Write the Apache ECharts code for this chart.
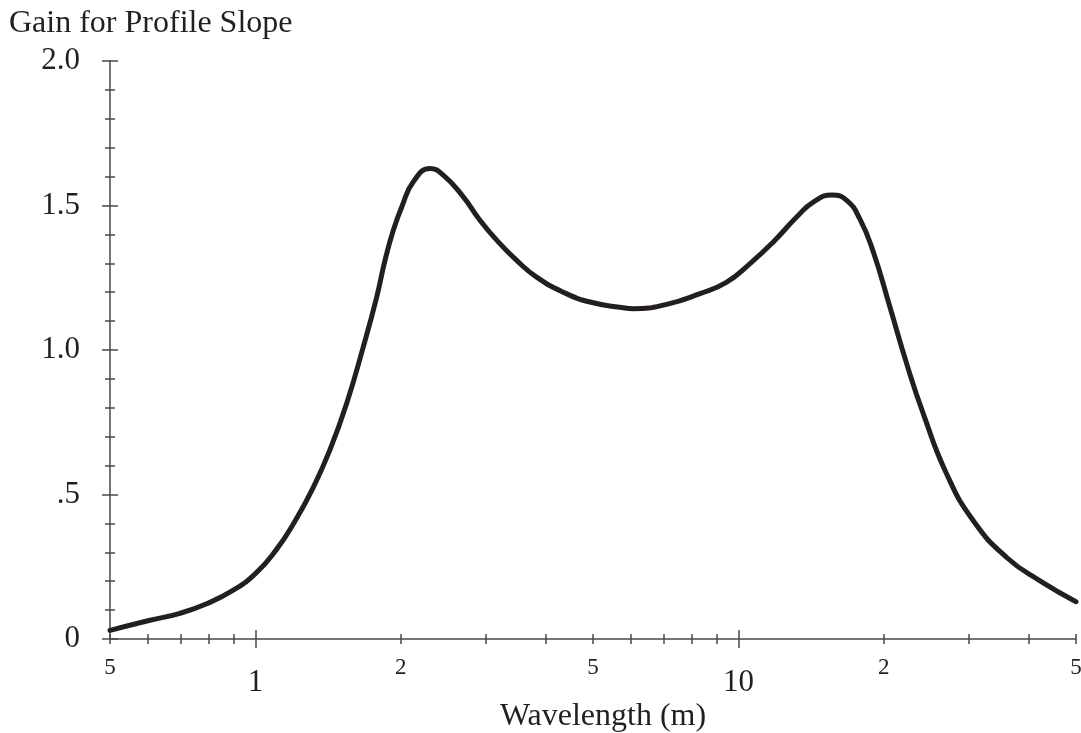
<!DOCTYPE html>
<html>
<head>
<meta charset="utf-8">
<script src="https://cdn.jsdelivr.net/npm/echarts@6/dist/echarts.min.js"></script>
<style>
html,body{margin:0;padding:0;background:#fff;}
#chart{width:1081px;height:733px;}
</style>
</head>
<body>
<div id="chart"></div>
<script>
// Wavelength (m) and gain values
var wavelength = [0.5,0.605,0.698,0.793,0.9,1.0,1.107,1.198,1.318,1.427,1.545,1.672,1.783,1.855,1.93,2.009,2.123,2.299,2.449,2.694,2.917,3.159,3.475,3.822,4.34,4.929,5.777,6.058,7.107,8.327,9.46,10.57,11.81,13.2,14.29,15.6,16.76,17.86,19.02,20.6,22.31,24.15,26.99,30.65,35.93,42.12,50];
var gain = [0.03,0.065,0.089,0.122,0.169,0.226,0.311,0.398,0.525,0.655,0.815,1.01,1.183,1.31,1.414,1.495,1.582,1.628,1.605,1.53,1.449,1.38,1.31,1.252,1.2,1.166,1.146,1.143,1.158,1.195,1.235,1.299,1.374,1.46,1.512,1.536,1.518,1.452,1.34,1.148,0.952,0.779,0.571,0.409,0.282,0.201,0.129];

// Axis ticks and labels
var xTickValues = [0.5,0.6,0.7,0.8,0.9,1,2,3,4,5,6,7,8,9,10,20,30,40,50];
var xMajorTickValues = [1,10];
var xSmallLabelValues = [0.5,2,5,20,50];
var xSmallLabelTexts = ['5','2','5','2','5'];
var xBigLabelValues = [1,10];
var xBigLabelTexts = ['1','10'];
var yLabelValues = [0,0.5,1.0,1.5,2.0];
var yLabelTexts = ['0','.5','1.0','1.5','2.0'];

var FONT = '"Liberation Serif","Times New Roman",serif';
var INK = '#231f20';
var AXIS = '#4a4a4a';

var seriesData = wavelength.map(function(w,i){return [w,gain[i]];});

function lookup(values, texts){
  return function(v){
    for (var i=0;i<values.length;i++){ if (Math.abs(values[i]-v) < 1e-6*Math.max(1,values[i])) return texts[i]; }
    return '';
  };
}

function xAxisBase(extra){
  var a = {
    type:'log', logBase:10, min:0.5, max:50, position:'bottom',
    axisLine:{show:false, onZero:false, lineStyle:{color:AXIS,width:1.5}},
    axisTick:{show:false}, axisLabel:{show:false}, splitLine:{show:false}, minorTick:{show:false}, minorSplitLine:{show:false}
  };
  for (var k in extra) a[k]=extra[k];
  return a;
}
function yAxisBase(extra){
  var a = {
    type:'value', min:0, max:2, interval:0.5, position:'left',
    axisLine:{show:false, onZero:false, lineStyle:{color:AXIS,width:1.5}},
    axisTick:{show:false}, axisLabel:{show:false}, splitLine:{show:false}
  };
  for (var k in extra) a[k]=extra[k];
  return a;
}

var option = {
  animation:false,
  backgroundColor:'#ffffff',
  title:{
    text:'Gain for Profile Slope', left:4, top:3,
    textStyle:{fontFamily:FONT, fontSize:32, fontWeight:'normal', color:INK}
  },
  grid:{left:110, right:5, top:61, bottom:94, containLabel:false, outerBoundsMode:'none'},
  xAxis:[
    xAxisBase({
      name:'Wavelength (m)', nameLocation:'middle', nameGap:62,
      nameTextStyle:{fontFamily:FONT, fontSize:32, color:INK, padding:[0,0,0,20]},
      axisLine:{show:true, onZero:false, lineStyle:{color:AXIS,width:1.5}},
      axisTick:{show:true, inside:false, length:5, customValues:xTickValues, lineStyle:{color:AXIS,width:1.5}},
      axisLabel:{
        show:true, margin:17, customValues:xSmallLabelValues,
        fontFamily:FONT, fontSize:23, lineHeight:23, color:INK,
        formatter:lookup(xSmallLabelValues, xSmallLabelTexts)
      }
    }),
    xAxisBase({
      axisTick:{show:true, inside:true, length:5, customValues:xTickValues, lineStyle:{color:AXIS,width:1.5}},
      axisLabel:{
        show:true, margin:28, customValues:xBigLabelValues,
        fontFamily:FONT, fontSize:31, lineHeight:31, color:INK,
        formatter:lookup(xBigLabelValues, xBigLabelTexts)
      }
    }),
    xAxisBase({axisTick:{show:true, inside:false, length:9, customValues:xMajorTickValues, lineStyle:{color:AXIS,width:1.5}}}),
    xAxisBase({axisTick:{show:true, inside:true, length:9, customValues:xMajorTickValues, lineStyle:{color:AXIS,width:1.5}}})
  ],
  yAxis:[
    yAxisBase({
      axisLine:{show:true, onZero:false, lineStyle:{color:AXIS,width:1.5}},
      axisTick:{show:true, inside:false, length:8, lineStyle:{color:AXIS,width:1.5}},
      minorTick:{show:true, splitNumber:5, length:5, lineStyle:{color:AXIS,width:1.5}},
      axisLabel:{
        show:true, margin:30, fontFamily:FONT, fontSize:31, color:INK,
        formatter:lookup(yLabelValues, yLabelTexts)
      }
    }),
    yAxisBase({
      axisTick:{show:true, inside:true, length:8, lineStyle:{color:AXIS,width:1.5}},
      minorTick:{show:true, splitNumber:5, length:5, lineStyle:{color:AXIS,width:1.5}}
    })
  ],
  series:[{
    type:'line', xAxisIndex:0, yAxisIndex:0,
    data:seriesData, symbol:'none', smooth:0.5,
    lineStyle:{color:INK, width:5, cap:'round', join:'round'},
    z:5
  }]
};

var chart = echarts.init(document.getElementById('chart'), null, {renderer:'canvas'});
chart.setOption(option);
</script>
</body>
</html>
